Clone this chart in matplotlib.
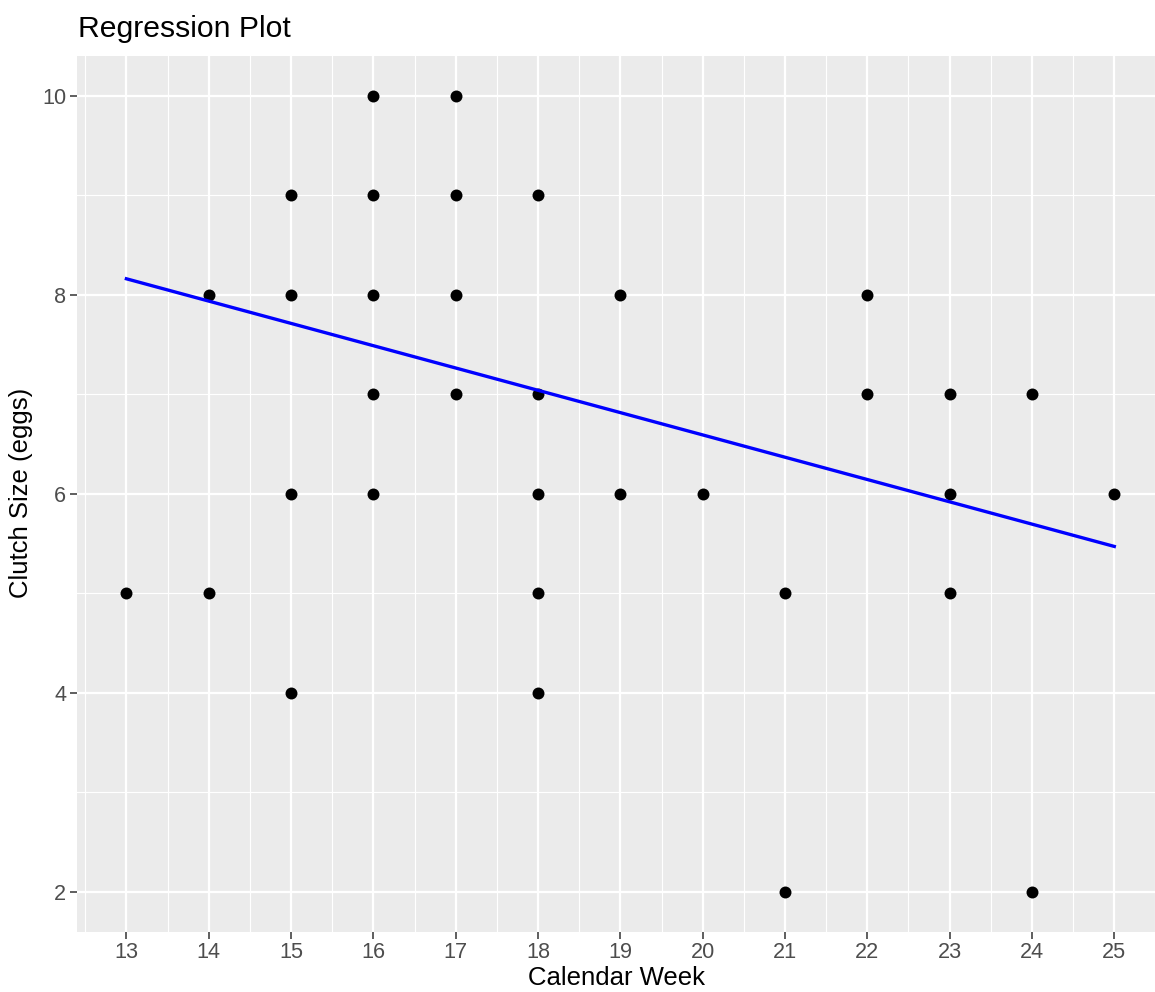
import numpy as np
import matplotlib.pyplot as plt
from matplotlib.ticker import MultipleLocator

plt.rcParams['font.family'] = ['Liberation Sans', 'DejaVu Sans']

# observed clutches: calendar week vs clutch size
week = [13, 14, 14, 15, 15, 15, 15, 16, 16, 16, 16, 16, 17, 17, 17, 17,
        18, 18, 18, 18, 18, 19, 19, 20, 21, 21, 22, 22, 23, 23, 23, 24, 24, 25]
clutch = [5, 8, 5, 9, 8, 6, 4, 10, 9, 8, 7, 6, 10, 9, 8, 7,
          9, 7, 6, 5, 4, 8, 6, 6, 5, 2, 8, 7, 7, 6, 5, 7, 2, 6]

# fitted regression line
fit_x = [13, 25]
fit_y = [8.16, 5.47]

W, H = 1155, 992
fig = plt.figure(figsize=(W / 100, H / 100), dpi=100)
ax = fig.add_axes([77 / W, 1 - 931.5 / H, (1163.7 - 77) / W, (931.5 - 55.9) / H])

ax.set_facecolor('#EBEBEB')
for s in ax.spines.values():
    s.set_visible(False)

ax.set_xlim(12.4, 25.6)
ax.set_ylim(1.6, 10.4)
ax.xaxis.set_major_locator(MultipleLocator(1))
ax.xaxis.set_minor_locator(MultipleLocator(0.5))
ax.yaxis.set_major_locator(MultipleLocator(2))
ax.yaxis.set_minor_locator(MultipleLocator(1))

ax.grid(which='major', color='white', linewidth=1.6)
ax.grid(which='minor', color='white', linewidth=0.8)
ax.set_axisbelow(True)

ax.tick_params(which='major', length=4.8, width=1.1, color='#333333',
               labelsize=15.6, labelcolor='#4D4D4D', pad=3)
ax.tick_params(which='minor', length=0)

ax.scatter(week, clutch, s=74, color='black', zorder=3, linewidths=0)
ax.plot(fit_x, fit_y, color='blue', linewidth=2.4, zorder=4)

fig.text(78 / W, 1 - 37 / H, 'Regression Plot', fontsize=21.7, ha='left', va='baseline')
fig.text((77 + 1155) / 2 / W, 1 - 985 / H, 'Calendar Week', fontsize=18.5, ha='center', va='baseline')
fig.text(21 / W, 1 - 493 / H, 'Clutch Size (eggs)', fontsize=18.5, rotation=90,
         ha='center', va='center')

fig.savefig('out.png', dpi=100)
